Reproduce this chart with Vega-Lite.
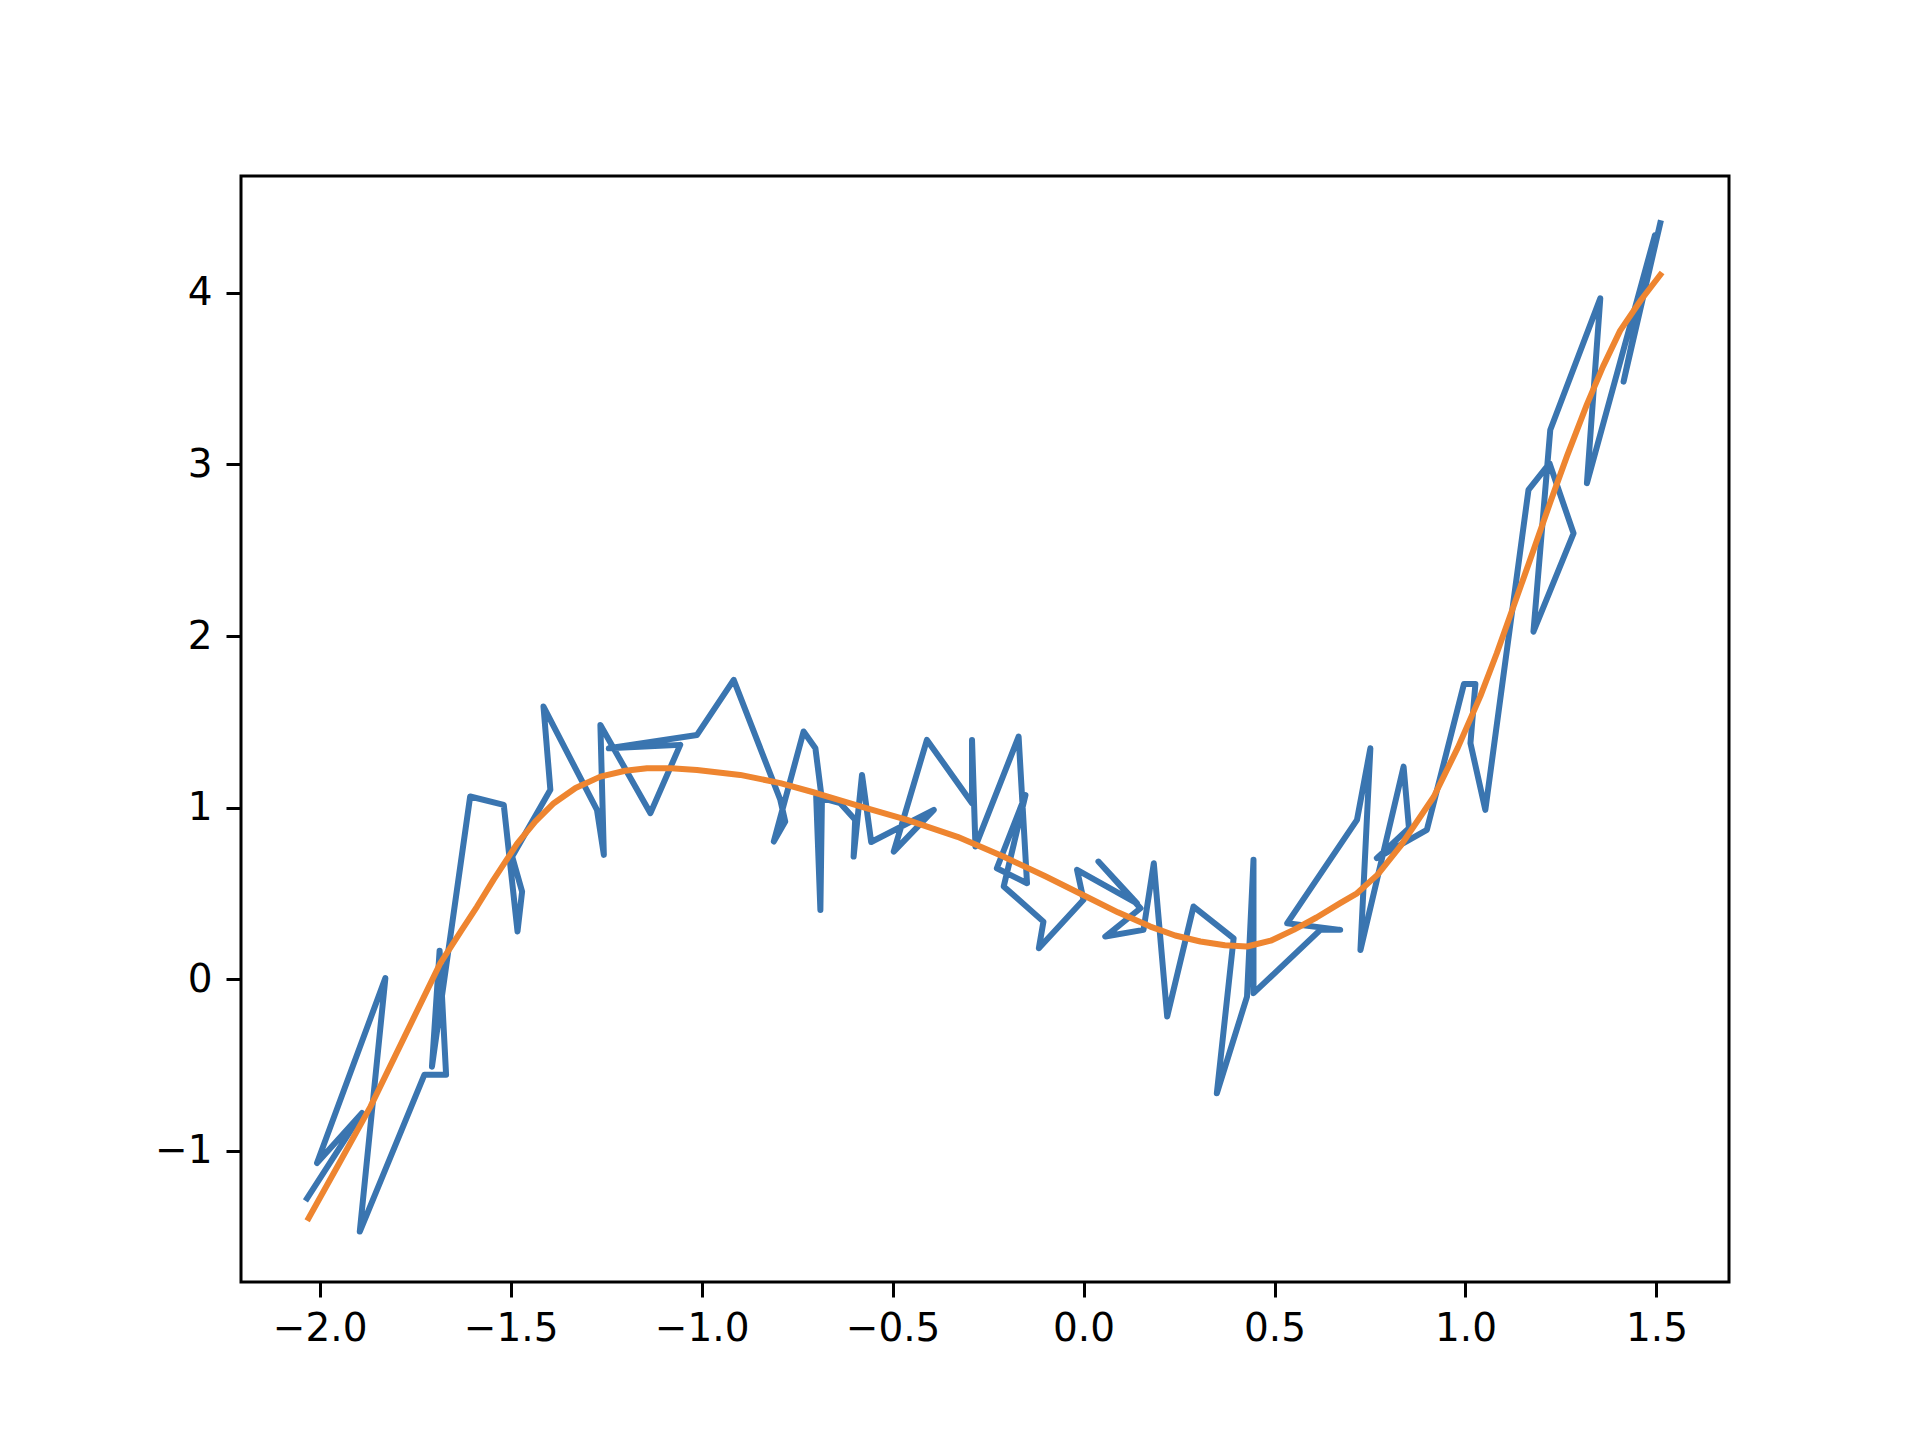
{
  "$schema": "https://vega.github.io/schema/vega-lite/v6.json",
  "width": 1488,
  "height": 1106,
  "autosize": {"type": "none"},
  "padding": {"left": 241, "top": 176, "right": 193, "bottom": 158},
  "background": "white",
  "config": {
    "view": {"stroke": "black", "strokeWidth": 3},
    "axis": {
      "domain": false,
      "grid": false,
      "tickColor": "black",
      "tickWidth": 3,
      "tickSize": 15,
      "labelFont": "DejaVu Sans",
      "labelFontSize": 39,
      "labelColor": "black",
      "labelPadding": 12,
      "labelFlush": false,
      "labelOverlap": false
    }
  },
  "datasets": {
    "blue": [
      {"i": 1, "x": -2.033, "y": -1.276},
      {"i": 2, "x": -1.889, "y": -0.779},
      {"i": 3, "x": -2.007, "y": -1.071},
      {"i": 4, "x": -1.828, "y": 0.007},
      {"i": 5, "x": -1.895, "y": -1.47},
      {"i": 6, "x": -1.726, "y": -0.557},
      {"i": 7, "x": -1.669, "y": -0.557},
      {"i": 8, "x": -1.686, "y": 0.167},
      {"i": 9, "x": -1.706, "y": -0.509},
      {"i": 10, "x": -1.606, "y": 1.065},
      {"i": 11, "x": -1.518, "y": 1.016},
      {"i": 12, "x": -1.482, "y": 0.279},
      {"i": 13, "x": -1.47, "y": 0.511},
      {"i": 14, "x": -1.496, "y": 0.715},
      {"i": 15, "x": -1.396, "y": 1.104},
      {"i": 16, "x": -1.414, "y": 1.589},
      {"i": 17, "x": -1.274, "y": 0.987},
      {"i": 18, "x": -1.256, "y": 0.725},
      {"i": 19, "x": -1.265, "y": 1.482},
      {"i": 20, "x": -1.134, "y": 0.968},
      {"i": 21, "x": -1.056, "y": 1.366},
      {"i": 22, "x": -1.243, "y": 1.346},
      {"i": 23, "x": -1.012, "y": 1.424},
      {"i": 24, "x": -0.916, "y": 1.745},
      {"i": 25, "x": -0.794, "y": 1.046},
      {"i": 26, "x": -0.781, "y": 0.919},
      {"i": 27, "x": -0.811, "y": 0.803},
      {"i": 28, "x": -0.733, "y": 1.444},
      {"i": 29, "x": -0.702, "y": 1.346},
      {"i": 30, "x": -0.685, "y": 1.046},
      {"i": 31, "x": -0.689, "y": 0.404},
      {"i": 32, "x": -0.7, "y": 1.065},
      {"i": 33, "x": -0.637, "y": 1.026},
      {"i": 34, "x": -0.598, "y": 0.929},
      {"i": 35, "x": -0.602, "y": 0.715},
      {"i": 36, "x": -0.58, "y": 1.191},
      {"i": 37, "x": -0.556, "y": 0.8},
      {"i": 38, "x": -0.392, "y": 0.987},
      {"i": 39, "x": -0.497, "y": 0.744},
      {"i": 40, "x": -0.41, "y": 1.395},
      {"i": 41, "x": -0.292, "y": 1.026},
      {"i": 42, "x": -0.292, "y": 1.395},
      {"i": 43, "x": -0.283, "y": 0.774},
      {"i": 44, "x": -0.17, "y": 1.414},
      {"i": 45, "x": -0.148, "y": 0.56},
      {"i": 46, "x": -0.227, "y": 0.647},
      {"i": 47, "x": -0.152, "y": 1.074},
      {"i": 48, "x": -0.209, "y": 0.541},
      {"i": 49, "x": -0.105, "y": 0.336},
      {"i": 50, "x": -0.117, "y": 0.181},
      {"i": 51, "x": 0.0, "y": 0.463},
      {"i": 52, "x": -0.017, "y": 0.638},
      {"i": 53, "x": 0.14, "y": 0.443},
      {"i": 54, "x": 0.039, "y": 0.686},
      {"i": 55, "x": 0.149, "y": 0.414},
      {"i": 56, "x": 0.057, "y": 0.249},
      {"i": 57, "x": 0.157, "y": 0.288},
      {"i": 58, "x": 0.184, "y": 0.676},
      {"i": 59, "x": 0.219, "y": -0.217},
      {"i": 60, "x": 0.288, "y": 0.424},
      {"i": 61, "x": 0.393, "y": 0.239},
      {"i": 62, "x": 0.349, "y": -0.664},
      {"i": 63, "x": 0.428, "y": -0.101},
      {"i": 64, "x": 0.445, "y": 0.696},
      {"i": 65, "x": 0.445, "y": -0.081},
      {"i": 66, "x": 0.62, "y": 0.288},
      {"i": 67, "x": 0.672, "y": 0.288},
      {"i": 68, "x": 0.533, "y": 0.326},
      {"i": 69, "x": 0.716, "y": 0.929},
      {"i": 70, "x": 0.751, "y": 1.346},
      {"i": 71, "x": 0.725, "y": 0.171},
      {"i": 72, "x": 0.838, "y": 1.239},
      {"i": 73, "x": 0.852, "y": 0.881},
      {"i": 74, "x": 0.768, "y": 0.706},
      {"i": 75, "x": 0.899, "y": 0.871},
      {"i": 76, "x": 0.996, "y": 1.721},
      {"i": 77, "x": 1.026, "y": 1.721},
      {"i": 78, "x": 1.013, "y": 1.376},
      {"i": 79, "x": 1.052, "y": 0.987},
      {"i": 80, "x": 1.165, "y": 2.852},
      {"i": 81, "x": 1.22, "y": 3.007},
      {"i": 82, "x": 1.283, "y": 2.599},
      {"i": 83, "x": 1.178, "y": 2.026},
      {"i": 84, "x": 1.222, "y": 3.201},
      {"i": 85, "x": 1.353, "y": 3.968},
      {"i": 86, "x": 1.318, "y": 2.891},
      {"i": 87, "x": 1.496, "y": 4.336},
      {"i": 88, "x": 1.414, "y": 3.483},
      {"i": 89, "x": 1.51, "y": 4.406}
    ],
    "orange": [
      {"x": -2.029, "y": -1.392},
      {"x": -1.95, "y": -1.076},
      {"x": -1.867, "y": -0.742},
      {"x": -1.78, "y": -0.344},
      {"x": -1.684, "y": 0.094},
      {"x": -1.63, "y": 0.28},
      {"x": -1.588, "y": 0.424},
      {"x": -1.545, "y": 0.579},
      {"x": -1.483, "y": 0.79},
      {"x": -1.435, "y": 0.92},
      {"x": -1.387, "y": 1.026},
      {"x": -1.33, "y": 1.115},
      {"x": -1.265, "y": 1.181},
      {"x": -1.2, "y": 1.215},
      {"x": -1.143, "y": 1.23},
      {"x": -1.08, "y": 1.23},
      {"x": -1.012, "y": 1.22},
      {"x": -0.899, "y": 1.191},
      {"x": -0.794, "y": 1.143},
      {"x": -0.698, "y": 1.084},
      {"x": -0.58, "y": 1.005},
      {"x": -0.462, "y": 0.929},
      {"x": -0.33, "y": 0.83},
      {"x": -0.21, "y": 0.715},
      {"x": -0.1, "y": 0.6},
      {"x": 0.0, "y": 0.49},
      {"x": 0.09, "y": 0.39},
      {"x": 0.175, "y": 0.307},
      {"x": 0.24, "y": 0.255},
      {"x": 0.306, "y": 0.22},
      {"x": 0.37, "y": 0.198},
      {"x": 0.428, "y": 0.191},
      {"x": 0.49, "y": 0.225},
      {"x": 0.55, "y": 0.288},
      {"x": 0.61, "y": 0.36},
      {"x": 0.672, "y": 0.444},
      {"x": 0.716, "y": 0.501},
      {"x": 0.77, "y": 0.61},
      {"x": 0.829, "y": 0.774},
      {"x": 0.917, "y": 1.064},
      {"x": 0.98, "y": 1.35},
      {"x": 1.039, "y": 1.65},
      {"x": 1.082, "y": 1.9},
      {"x": 1.135, "y": 2.23},
      {"x": 1.178, "y": 2.5},
      {"x": 1.222, "y": 2.78},
      {"x": 1.266, "y": 3.05},
      {"x": 1.318, "y": 3.35},
      {"x": 1.36, "y": 3.57},
      {"x": 1.405, "y": 3.78},
      {"x": 1.46, "y": 3.96},
      {"x": 1.51, "y": 4.105}
    ]
  },
  "layer": [
    {
      "data": {"name": "blue"},
      "mark": {"type": "line", "color": "#3a75b0", "strokeWidth": 6, "strokeJoin": "round", "strokeCap": "square"},
      "encoding": {
        "x": {"field": "x", "type": "quantitative", "title": null,
              "scale": {"domain": [-2.206, 1.69], "nice": false, "zero": false},
              "axis": {"values": [-2, -1.5, -1, -0.5, 0, 0.5, 1, 1.5], "format": ".1f"}},
        "y": {"field": "y", "type": "quantitative", "title": null,
              "scale": {"domain": [-1.764, 4.681], "nice": false, "zero": false},
              "axis": {"values": [-1, 0, 1, 2, 3, 4], "format": "d", "labelPadding": 14}},
        "order": {"field": "i", "type": "quantitative"}
      }
    },
    {
      "data": {"name": "orange"},
      "mark": {"type": "line", "color": "#ee8530", "strokeWidth": 6, "strokeJoin": "round", "strokeCap": "square"},
      "encoding": {
        "x": {"field": "x", "type": "quantitative"},
        "y": {"field": "y", "type": "quantitative"}
      }
    }
  ]
}
